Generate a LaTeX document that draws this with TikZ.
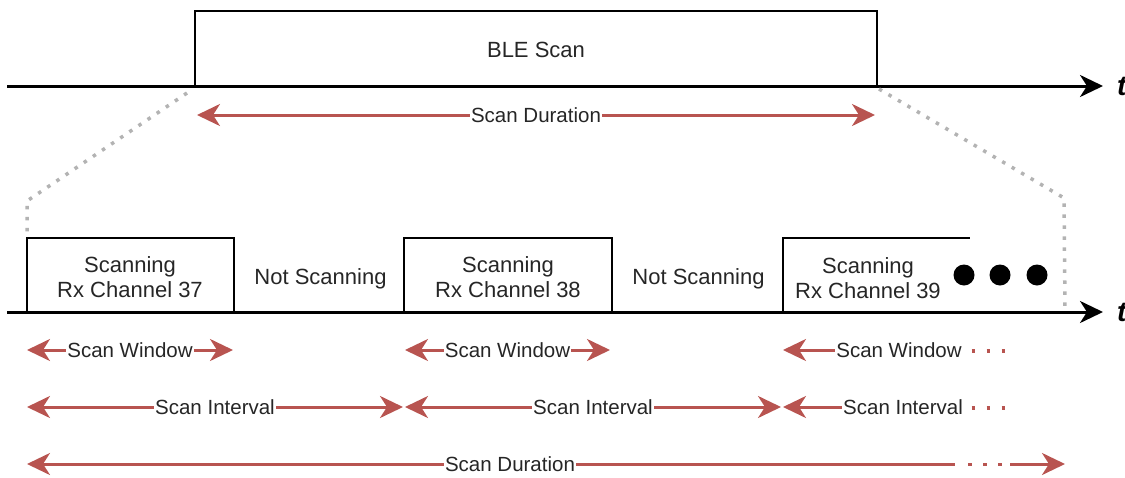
\documentclass[tikz,border=0pt]{standalone}
\usepackage{fontspec}
\setmainfont{Liberation Sans}
\usetikzlibrary{arrows.meta}
\definecolor{redarrow}{HTML}{B85450}
\definecolor{dotgrey}{HTML}{B3B3B3}
\definecolor{txt}{HTML}{262626}
\tikzset{
  axis/.style={line width=3pt, -{Stealth[length=23pt,width=22pt,inset=7pt]}},
  boxtext/.style={font=\fontsize{22}{25.5}\selectfont, align=center, text=txt},
  slot/.style={draw, line width=2pt, outer sep=0pt, inner sep=0pt, minimum width=#1, minimum height=74pt, anchor=south west},
  rline/.style={draw=redarrow, line width=3pt},
  rboth/.style={rline, {Stealth[length=23pt,width=22pt,inset=7pt]}-{Stealth[length=23pt,width=22pt,inset=7pt]}},
  rleft/.style={rline, {Stealth[length=23pt,width=22pt,inset=7pt]}-},
  rright/.style={rline, -{Stealth[length=23pt,width=22pt,inset=7pt]}},
  rdots/.style={draw=redarrow, line width=3.5pt, dash pattern=on 3.5pt off 11.5pt},
  gdots/.style={draw=dotgrey, line width=3.5pt, dash pattern=on 3.5pt off 7.5pt},
  lbl/.style={fill=white, inner sep=1pt, font=\fontsize{20.5}{24}\selectfont, text=txt},
  tlabel/.style={font=\fontsize{28}{30}\selectfont\bfseries\itshape, inner sep=0pt, anchor=base west},
  bigdot/.style={circle, fill=black, minimum size=21pt, inner sep=0pt},
}
\begin{document}
\begin{tikzpicture}[x=1pt,y=-1pt]
\useasboundingbox (0,0) rectangle (1125,477);
% top part
\node[slot=682pt, minimum height=75pt] (ble) at (195,86) {};
\node[boxtext] (bletext) at (536,50) {BLE Scan};
\coordinate (ta0) at (7,86);
\coordinate (ta1) at (1103,86);
\draw[axis] (ta0) -- (ta1);
\node[tlabel] (t1) at (1117,95) {t};
\coordinate (sdt0) at (197,115);
\coordinate (sdt1) at (875,115);
\draw[rboth] (sdt0) -- node[lbl] (sdtop) {Scan Duration} (sdt1);
% zoom lines
\coordinate (gl0) at (187,93);
\coordinate (gl1) at (27,201);
\coordinate (gl2) at (27,236);
\coordinate (gr0) at (879,89);
\coordinate (gr1) at (1064,198);
\coordinate (gr2) at (1065,310);
\draw[gdots] (gl0) -- (gl1) -- (gl2);
\draw[gdots] (gr0) -- (gr1) -- (gr2);
% slots
\node[slot=207pt] (s37) at (27,312) {};
\node[boxtext] (s37text) at (130,277) {Scanning\\Rx Channel 37};
\node[boxtext] (ns1) at (320.5,279) {Not Scanning};
\node[slot=208pt] (s38) at (404,312) {};
\node[boxtext] (s38text) at (508,277) {Scanning\\Rx Channel 38};
\node[boxtext] (ns2) at (698.5,279) {Not Scanning};
\coordinate (b3a) at (783,312);
\coordinate (b3b) at (970,238);
\draw[line width=2pt] (b3a) |- (b3b);
\node[boxtext] (s39) at (868,278) {Scanning\\Rx Channel 39};
\node[bigdot] (d1) at (964,275) {};
\node[bigdot] (d2) at (1000,275) {};
\node[bigdot] (d3) at (1037,275) {};
\coordinate (ba0) at (7,312);
\coordinate (ba1) at (1103,312);
\draw[axis] (ba0) -- (ba1);
\node[tlabel] (t2) at (1117,321) {t};
% scan window row
\coordinate (w1a) at (27,350);
\coordinate (w1b) at (233,350);
\draw[rboth] (w1a) -- node[lbl] (sw1) {Scan Window} (w1b);
\coordinate (w2a) at (405,350);
\coordinate (w2b) at (610,350);
\draw[rboth] (w2a) -- node[lbl] (sw2) {Scan Window} (w2b);
\coordinate (w3a) at (783,350);
\node[lbl] (sw3) at (899,350) {Scan Window};
\draw[rleft] (w3a) -- (sw3.west);
\coordinate (w3d0) at (971.5,351);
\coordinate (w3d1) at (1005.5,351);
\draw[rdots] (w3d0) -- (w3d1);
% scan interval row
\coordinate (i1a) at (27,407);
\coordinate (i1b) at (403,407);
\draw[rboth] (i1a) -- node[lbl] (si1) {Scan Interval} (i1b);
\coordinate (i2a) at (405,407);
\coordinate (i2b) at (781,407);
\draw[rboth] (i2a) -- node[lbl] (si2) {Scan Interval} (i2b);
\coordinate (i3a) at (783,407);
\node[lbl] (si3) at (903,407) {Scan Interval};
\draw[rleft] (i3a) -- (si3.west);
\coordinate (i3d0) at (971.5,408);
\coordinate (i3d1) at (1005.5,408);
\draw[rdots] (i3d0) -- (i3d1);
% scan duration row
\coordinate (d0a) at (27,464);
\node[lbl] (sdb) at (510,464) {Scan Duration};
\coordinate (d0b) at (955,464);
\draw[rleft] (d0a) -- (sdb.west);
\draw[rline] (sdb.east) -- (d0b);
\coordinate (dd0) at (968,464.5);
\coordinate (dd1) at (1002,464.5);
\draw[rdots] (dd0) -- (dd1);
\coordinate (d1a) at (1010,464);
\coordinate (d1b) at (1065,464);
\draw[rright] (d1a) -- (d1b);
\end{tikzpicture}
\end{document}
